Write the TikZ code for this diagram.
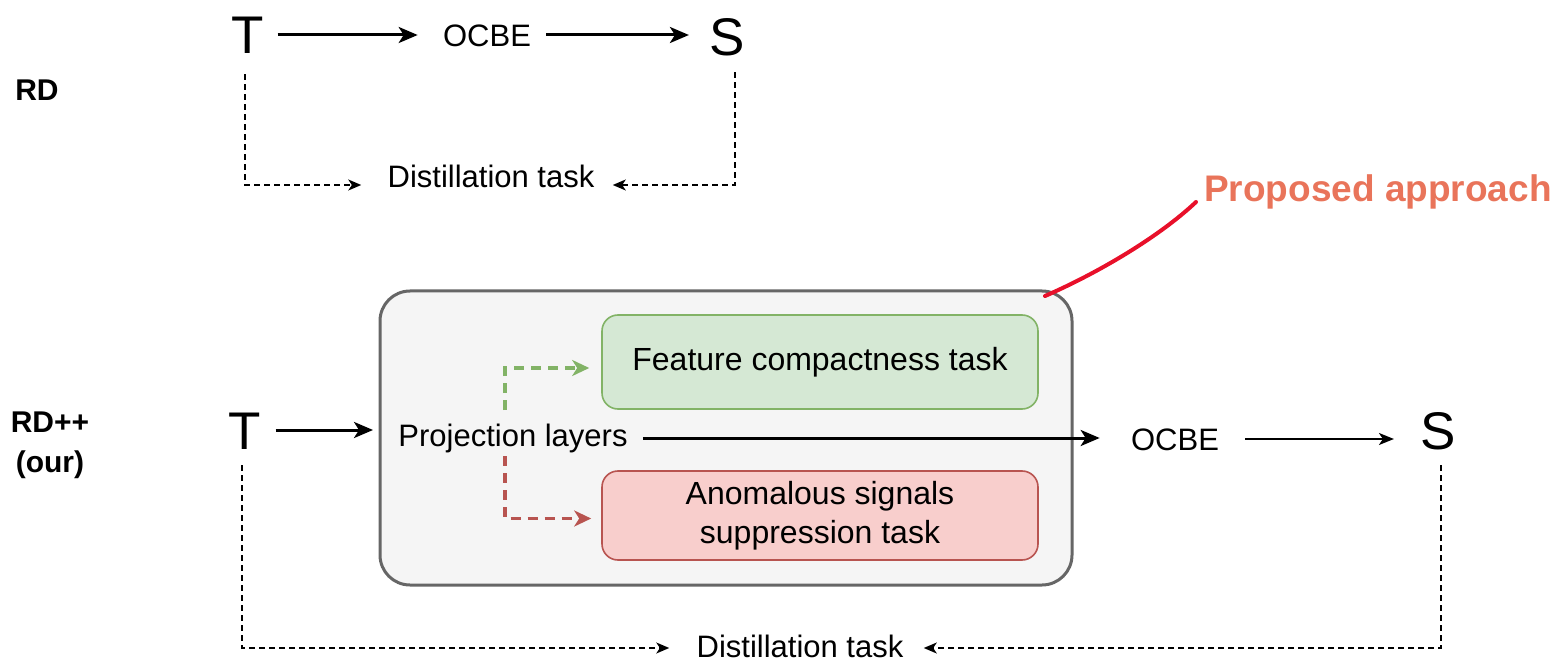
\documentclass[tikz,border=0pt]{standalone}
\usepackage{fontspec}
\setmainfont{Liberation Sans}
\usetikzlibrary{arrows.meta}
\definecolor{boxgray}{HTML}{F5F5F5}
\definecolor{boxline}{HTML}{666666}
\definecolor{gfill}{HTML}{D5E8D4}
\definecolor{gline}{HTML}{82B366}
\definecolor{rfill}{HTML}{F8CECC}
\definecolor{rline}{HTML}{B85450}
\definecolor{propcol}{HTML}{E9745A}
\definecolor{curvecol}{HTML}{E8102A}
\begin{document}
\begin{tikzpicture}[x=0.5pt,y=-0.5pt,
 lbl/.style={inner sep=0pt, font=\fontsize{15.5}{18}\selectfont, text height=11.1pt, text depth=0pt},
 letter/.style={inner sep=0pt, font=\fontsize{26.5}{30}\selectfont, text height=19pt, text depth=0pt},
 side/.style={inner sep=0pt, font=\fontsize{15}{20}\selectfont\bfseries, align=center},
 arrowbold/.style={line width=1.5pt, -{Stealth[length=9.5pt,width=8pt,inset=2.5pt]}},
 arrowthin/.style={line width=0.9pt, -{Stealth[length=7.5pt,width=6pt,inset=2pt]}},
 distline/.style={line width=0.7pt, dash pattern=on 3pt off 2pt, -{Stealth[length=6.5pt,width=5.5pt,inset=1.8pt]}},
 greenline/.style={draw=gline, line width=1.6pt, dash pattern=on 5pt off 3.5pt, -{Stealth[length=8.5pt,width=8pt,inset=2.5pt,fill=gline]}},
 redline/.style={draw=rline, line width=1.6pt, dash pattern=on 5pt off 3.5pt, -{Stealth[length=8.5pt,width=8pt,inset=2.5pt,fill=rline]}},
 bigbox/.style={draw=boxline, fill=boxgray, line width=1.5pt, rounded corners=15pt, inner sep=0pt},
 taskbox/.style={line width=0.8pt, rounded corners=8pt, inner sep=0pt, minimum width=218pt, align=center, font=\fontsize{16}{19.5}\selectfont},
]
\useasboundingbox (0,0) rectangle (1556,662);

% ---------- RD ----------
\node[side] (rd) at (37,90) {RD};
\node[letter] (t1) at (248,35) {T};
\node[lbl] (ocbe1) at (487,35) {OCBE};
\node[letter] (s1) at (727,37) {S};
\node[lbl] (dist1) at (491,176) {Distillation task};

\draw[arrowbold, shorten <=6.5pt, shorten >=12.5pt] (t1.east) -- (ocbe1.west);
\draw[arrowbold, shorten <=7.5pt, shorten >=10pt] (ocbe1.east) -- (ocbe1.east -| s1.west);
\draw[distline, shorten >=13pt] ([xshift=-1.5pt,yshift=-10pt]t1.south) |- ([yshift=-4.5pt]dist1.west);
\draw[distline, shorten >=9pt] ([xshift=4pt,yshift=-8pt]s1.south) |- ([yshift=-4.5pt]dist1.east);

% ---------- RD++ ----------
\node[side] (rdpp) at (50,445) {RD++\\(our)};
\node[bigbox, minimum width=346pt, minimum height=147pt] (pbox) at (726,438) {};
\node[taskbox, draw=gline, fill=gfill, minimum height=47pt] (green) at (820,362) {Feature compactness task};
\node[taskbox, draw=rline, fill=rfill, minimum height=44.5pt] (red) at (820,515.5) {Anomalous signals\\suppression task};
\node[lbl] (proj) at (513,435) {Projection layers};
\node[letter] (t2) at (245,430) {T};
\node[lbl] (ocbe2) at (1175,439) {OCBE};
\node[letter] (s2) at (1438,430) {S};
\node[lbl] (dist2) at (800,646) {Distillation task};

\coordinate (gsplit) at (505,410);
\coordinate (rsplit) at (505,456);

\draw[arrowbold, shorten <=7pt, shorten >=12.5pt] (t2.east) -- (t2.east -| proj.west);
\draw[arrowbold, shorten <=7.5pt, shorten >=15.5pt] ([yshift=-1.5pt]proj.east) -- ([yshift=-1.5pt]proj.east -| ocbe2.west);
\draw[arrowthin, shorten <=13pt, shorten >=13pt] (ocbe2.east) -- (ocbe2.east -| s2.west);
\draw[greenline, shorten >=6pt] (gsplit) |- ([yshift=-3pt]green.west);
\draw[redline, shorten >=5pt] (rsplit) |- ([yshift=-1.5pt]red.west);
\draw[distline, shorten >=13.5pt] ([xshift=-1.5pt,yshift=-8pt]t2.south) |- ([yshift=-1pt]dist2.west);
\draw[distline, shorten >=10pt] ([xshift=1.5pt,yshift=-8pt]s2.south) |- ([yshift=-1pt]dist2.east);

% ---------- annotation ----------
\node[inner sep=0pt, font=\fontsize{18.5}{22}\selectfont\bfseries, text=propcol, text height=13.3pt, text depth=0pt] (prop) at (1378,188) {Proposed approach};
\coordinate (c1) at (1045,296);
\coordinate (c2) at (1196,202);
\draw[curvecol, line width=2pt, line cap=round] (c1) .. controls (1100,272) and (1160,236) .. (c2);
\end{tikzpicture}
\end{document}
